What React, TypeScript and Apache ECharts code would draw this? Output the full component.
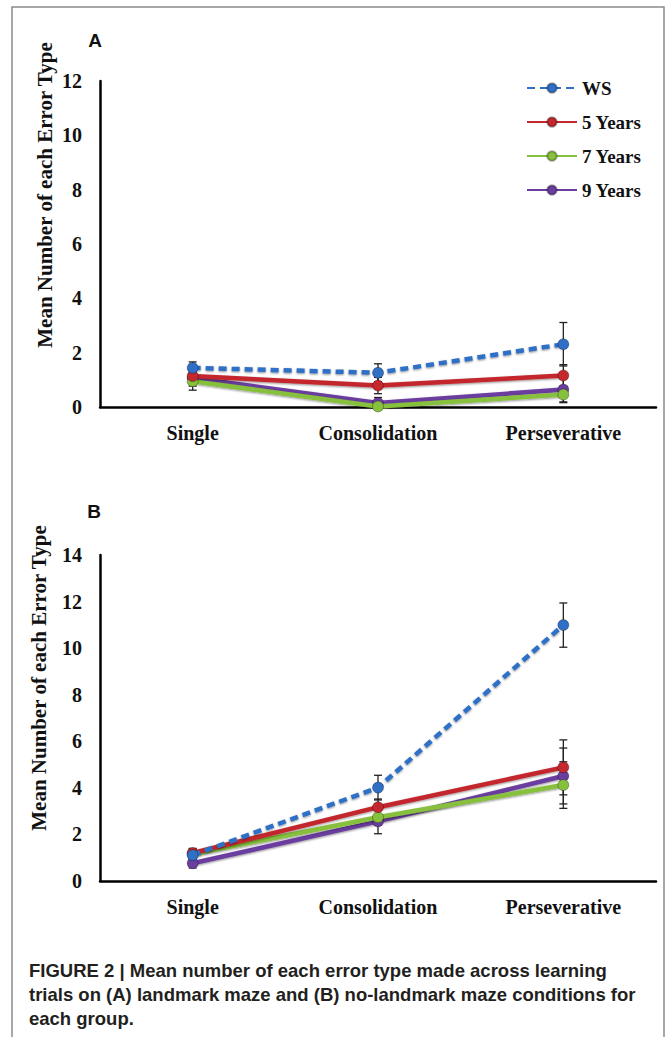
import React, { useEffect, useRef } from "react";
import * as echarts from "echarts";

const categories = ["Single", "Consolidation", "Perseverative"];
const seriesNames = ["WS", "5 Years", "7 Years", "9 Years"];
const seriesColors = ["#2F6FC6", "#C4272D", "#86C03C", "#6A3E9F"];

// Panel A: landmark maze
const landmarkWS = [1.44, 1.26, 2.31];
const landmark5 = [1.14, 0.79, 1.16];
const landmark7 = [0.95, 0.02, 0.46];
const landmark9 = [1.07, 0.15, 0.64];
const landmarkErrWS = [0.22, 0.33, 0.8];
const landmarkErr5 = [0.25, 0.3, 0.4];
const landmarkErr7 = [0.33, 0.15, 0.3];
const landmarkErr9 = [0.3, 0.2, 0.45];

// Panel B: no-landmark maze
const noLandmarkWS = [1.11, 4.01, 10.99];
const noLandmark5 = [1.2, 3.17, 4.88];
const noLandmark7 = [1.16, 2.74, 4.12];
const noLandmark9 = [0.76, 2.56, 4.51];
const noLandmarkErrWS = [0.2, 0.53, 0.95];
const noLandmarkErr5 = [0.2, 0.35, 1.18];
const noLandmarkErr7 = [0.2, 0.35, 1.0];
const noLandmarkErr9 = [0.2, 0.53, 1.2];

const yMaxA = 12;
const yMaxB = 14;
const yInterval = 2;

const yTitle = "Mean Number of each Error Type";
const captionLines = [
  "FIGURE 2 | Mean number of each error type made across learning",
  "trials on (A) landmark maze and (B) no-landmark maze conditions for",
  "each group.",
];

const SERIF = "'Liberation Serif', 'Times New Roman', serif";
const SANS = "'Liberation Sans', Arial, sans-serif";

function lineSeries(name: string, idx: number, data: number[], gridIdx: number) {
  const dashed = name === "WS";
  return {
    type: "line",
    name,
    xAxisIndex: gridIdx,
    yAxisIndex: gridIdx,
    data,
    symbol: "circle",
    symbolSize: 11,
    z: 3 + (3 - idx),
    itemStyle: { color: seriesColors[idx], borderColor: "rgba(0,0,0,0.3)", borderWidth: 1 },
    lineStyle: {
      color: seriesColors[idx],
      width: 4.5,
      type: dashed ? [8, 5] : "solid",
      shadowColor: "rgba(0,0,0,0.45)",
      shadowBlur: 2,
      shadowOffsetY: 1,
    },
  };
}

function errSeries(values: number[], errs: number[], gridIdx: number) {
  return {
    type: "custom",
    xAxisIndex: gridIdx,
    yAxisIndex: gridIdx,
    z: 2,
    encode: { x: 0, y: [1, 2] },
    data: values.map((v, i) => [i, Math.max(0, v - errs[i]), v + errs[i]]),
    renderItem: (params: any, api: any) => {
      const x = api.value(0);
      const lo = api.coord([x, api.value(1)]);
      const hi = api.coord([x, api.value(2)]);
      const cap = 4;
      const style = { stroke: "#222", lineWidth: 1.3 };
      return {
        type: "group",
        children: [
          { type: "line", shape: { x1: lo[0], y1: lo[1], x2: hi[0], y2: hi[1] }, style },
          { type: "line", shape: { x1: lo[0] - cap, y1: lo[1], x2: lo[0] + cap, y2: lo[1] }, style },
          { type: "line", shape: { x1: hi[0] - cap, y1: hi[1], x2: hi[0] + cap, y2: hi[1] }, style },
        ],
      };
    },
  };
}

export default function App() {
  const ref = useRef<HTMLDivElement>(null);
  useEffect(() => {
    if (!ref.current) return;
    const chart = echarts.init(ref.current, null, { renderer: "svg" });
    const axisLabelY = { fontFamily: SERIF, fontWeight: "bold", fontSize: 20, color: "#111", margin: 18 };
    const axisLabelX = { fontFamily: SERIF, fontWeight: "bold", fontSize: 20, color: "#111", margin: 16 };
    const axisLine = { show: true, lineStyle: { color: "#000", width: 2.5 } };
    const xAxisBase = {
      type: "category",
      data: categories,
      boundaryGap: true,
      axisLine,
      axisTick: { show: false },
      axisLabel: axisLabelX,
      splitLine: { show: false },
    };
    const yAxisBase = {
      type: "value",
      min: 0,
      interval: yInterval,
      axisLine,
      axisTick: { show: false },
      axisLabel: axisLabelY,
      splitLine: { show: false },
    };
    const aData = [landmarkWS, landmark5, landmark7, landmark9];
    const aErr = [landmarkErrWS, landmarkErr5, landmarkErr7, landmarkErr9];
    const bData = [noLandmarkWS, noLandmark5, noLandmark7, noLandmark9];
    const bErr = [noLandmarkErrWS, noLandmarkErr5, noLandmarkErr7, noLandmarkErr9];
    const series: any[] = [];
    seriesNames.forEach((n, i) => series.push(errSeries(aData[i], aErr[i], 0)));
    seriesNames.forEach((n, i) => series.push(errSeries(bData[i], bErr[i], 1)));
    seriesNames.forEach((n, i) => series.push(lineSeries(n, i, aData[i], 0)));
    seriesNames.forEach((n, i) => series.push(lineSeries(n, i, bData[i], 1)));

    chart.setOption({
      animation: false,
      backgroundColor: "#fff",
      grid: [
        { left: 100, top: 81, width: 556, height: 326 },
        { left: 100, top: 555, width: 556, height: 326 },
      ],
      xAxis: [
        { ...xAxisBase, gridIndex: 0 },
        { ...xAxisBase, gridIndex: 1 },
      ],
      yAxis: [
        { ...yAxisBase, gridIndex: 0, max: yMaxA },
        { ...yAxisBase, gridIndex: 1, max: yMaxB },
      ],
      legend: {
        data: seriesNames,
        orient: "vertical",
        left: 521,
        top: 73,
        itemWidth: 50,
        itemHeight: 12,
        itemGap: 14,
        textStyle: { fontFamily: SERIF, fontWeight: "bold", fontSize: 19, color: "#111", lineHeight: 20 },
        selectedMode: false,
      },
      series,
      graphic: [
        {
          type: "rect",
          shape: { x: 12, y: 7, width: 652, height: 1040 },
          style: { fill: "none", stroke: "#8a8a8a", lineWidth: 1.5 },
          z: 0,
        },
        {
          type: "text",
          x: 95,
          y: 40,
          style: { text: "A", font: `bold 19px ${SANS}`, fill: "#111", align: "center", verticalAlign: "middle" },
        },
        {
          type: "text",
          x: 94,
          y: 511,
          style: { text: "B", font: `bold 19px ${SANS}`, fill: "#111", align: "center", verticalAlign: "middle" },
        },
        {
          type: "text",
          x: 45,
          y: 195,
          rotation: Math.PI / 2,
          style: { text: yTitle, font: `bold 21px ${SERIF}`, fill: "#111", align: "center", verticalAlign: "middle" },
        },
        {
          type: "text",
          x: 39,
          y: 678,
          rotation: Math.PI / 2,
          style: { text: yTitle, font: `bold 21px ${SERIF}`, fill: "#111", align: "center", verticalAlign: "middle" },
        },
        ...captionLines.map((t, i) => ({
          type: "text",
          x: 29,
          y: 970 + i * 24,
          style: { text: t, font: `bold 18.5px ${SANS}`, fill: "#231f20", align: "left", verticalAlign: "middle" },
        })),
      ],
    });
    return () => chart.dispose();
  }, []);
  return (
    <div
      ref={ref}
      style={{ position: "absolute", left: 0, top: 0, width: 667, height: 1037 }}
    />
  );
}
